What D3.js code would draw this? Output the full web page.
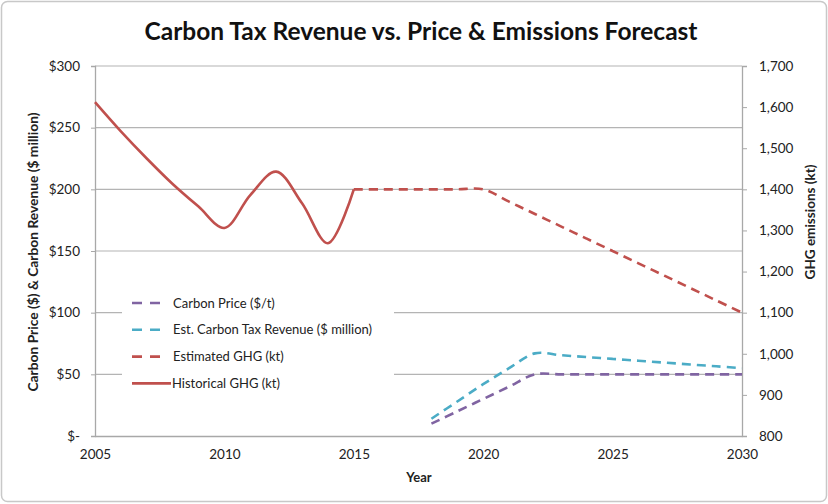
<!DOCTYPE html>
<html><head><meta charset="utf-8">
<script src="https://cdn.jsdelivr.net/npm/d3@7"></script>
<style>
body{margin:0;background:#fff;}
svg{display:block;font-family:Lato,"Open Sans",sans-serif;}
</style></head>
<body><svg id="c" width="828" height="504"></svg>
<script>
// ---- data ----
const histYears = [2005,2006,2007,2008,2009,2010,2011,2012,2013,2014,2015];
const histGHG   = [1612,1541,1475,1413,1358,1306,1386,1443,1366,1269,1400];
const estYears  = [2015,2016,2017,2018,2019,2020,2021,2022,2023,2024,2025,2026,2027,2028,2029,2030];
const estGHG    = [1400,1400,1400,1400,1400,1400,1370,1340,1310,1280,1250,1220,1190,1160,1130,1100];
const fcYears   = [2018,2019,2020,2021,2022,2023,2024,2025,2026,2027,2028,2029,2030];
const price     = [10,20,30,40,50,50,50,50,50,50,50,50,50];
const revenue   = [14,28,42,55,67,65.5,64,62.5,61,59.5,58,56.5,55];
const xTicks    = [2005,2010,2015,2020,2025,2030];
const leftTicks = [0,50,100,150,200,250,300];
const rightTicks= [800,900,1000,1100,1200,1300,1400,1500,1600,1700];

const svg = d3.select("#c");
const L=95,R=742,T=66,B=436;
const x  = d3.scaleLinear([2005,2030],[L,R]);
const yL = d3.scaleLinear([0,300],[B,T]);
const yR = d3.scaleLinear([800,1700],[B,T]);

// outer frame
svg.append("rect").attr("x",1.5).attr("y",1.5).attr("width",825).attr("height",500)
  .attr("rx",6).attr("fill","#fff").attr("stroke","#c8c8c8").attr("stroke-width",1.5);

// gridlines
svg.append("g").selectAll("line").data(leftTicks.filter(d=>d>0)).join("line")
  .attr("x1",L).attr("x2",R).attr("y1",d=>yL(d)).attr("y2",d=>yL(d))
  .attr("stroke","#b4b4b4").attr("stroke-width",1.2);

// axes
const gL = svg.append("g").attr("transform",`translate(${L},0)`)
  .call(d3.axisLeft(yL).tickValues(leftTicks).tickSize(4).tickPadding(11)
  .tickFormat(d=>d===0?"$-":"$"+d));
const gR = svg.append("g").attr("transform",`translate(${R},0)`)
  .call(d3.axisRight(yR).tickValues(rightTicks).tickSize(5).tickPadding(12)
  .tickFormat(d3.format(",")));
const gB = svg.append("g").attr("transform",`translate(0,${B})`)
  .call(d3.axisBottom(x).tickValues(xTicks).tickSize(0).tickPadding(13).tickFormat(d3.format("d")));
[gL,gR,gB].forEach(g=>{
  g.selectAll(".domain").attr("stroke","#a8a8a8").attr("stroke-width",1.3);
  g.selectAll(".tick line").attr("stroke","#a8a8a8");
  g.selectAll("text").attr("font-size",13.5).attr("fill","#222").attr("font-family","Lato, sans-serif");
});

// lines
const lineR = d3.line().curve(d3.curveCatmullRom.alpha(0.5));
svg.append("path")
  .attr("d",lineR(histYears.map((yr,i)=>[x(yr),yR(histGHG[i])])))
  .attr("fill","none").attr("stroke","#C0504D").attr("stroke-width",2.6);
svg.append("path")
  .attr("d",lineR(estYears.map((yr,i)=>[x(yr),yR(estGHG[i])])))
  .attr("fill","none").attr("stroke","#C0504D").attr("stroke-width",2.6).attr("stroke-dasharray","9,6");
svg.append("path")
  .attr("d",lineR(fcYears.map((yr,i)=>[x(yr),yL(revenue[i])])))
  .attr("fill","none").attr("stroke","#4BACC6").attr("stroke-width",2.6).attr("stroke-dasharray","9,6");
svg.append("path")
  .attr("d",lineR(fcYears.map((yr,i)=>[x(yr),yL(price[i])])))
  .attr("fill","none").attr("stroke","#8064A2").attr("stroke-width",2.6).attr("stroke-dasharray","9,6");

// legend
const legend = [
  {name:"Carbon Price ($/t)", color:"#8064A2", dash:"10,8"},
  {name:"Est. Carbon Tax Revenue ($ million)", color:"#4BACC6", dash:"10,8"},
  {name:"Estimated GHG (kt)", color:"#C0504D", dash:"10,8"},
  {name:"Historical GHG (kt)", color:"#C0504D", dash:null}
];
svg.append("rect").attr("x",122).attr("y",288).attr("width",272).attr("height",108).attr("fill","#fff");
const lg = svg.append("g").selectAll("g").data(legend).join("g")
  .attr("transform",(d,i)=>`translate(132,${303+i*26.8})`);
lg.append("line").attr("x1",0).attr("x2",d=>d.dash?28:39).attr("y1",0).attr("y2",0)
  .attr("stroke",d=>d.color).attr("stroke-width",2.6).attr("stroke-dasharray",d=>d.dash);
lg.append("text").attr("x",d=>d.dash?41:40).attr("y",4.5).attr("font-size",13).attr("fill","#222")
  .text(d=>d.name);

// titles
svg.append("text").attr("x",421).attr("y",40).attr("text-anchor","middle")
  .attr("font-size",24.5).attr("font-weight","bold").attr("fill","#111")
  .text("Carbon Tax Revenue vs. Price & Emissions Forecast");
svg.append("text").attr("x",419).attr("y",482).attr("text-anchor","middle")
  .attr("font-size",13).attr("font-weight","bold").attr("fill","#222").text("Year");
svg.append("text").attr("transform","translate(38,252) rotate(-90)").attr("text-anchor","middle")
  .attr("font-size",13.8).attr("font-weight","bold").attr("fill","#222")
  .text("Carbon Price ($) & Carbon Revenue ($ million)");
svg.append("text").attr("transform","translate(815,222) rotate(-90)").attr("text-anchor","middle")
  .attr("font-size",13.5).attr("font-weight","bold").attr("fill","#222")
  .text("GHG emissions (kt)");
</script></body></html>
